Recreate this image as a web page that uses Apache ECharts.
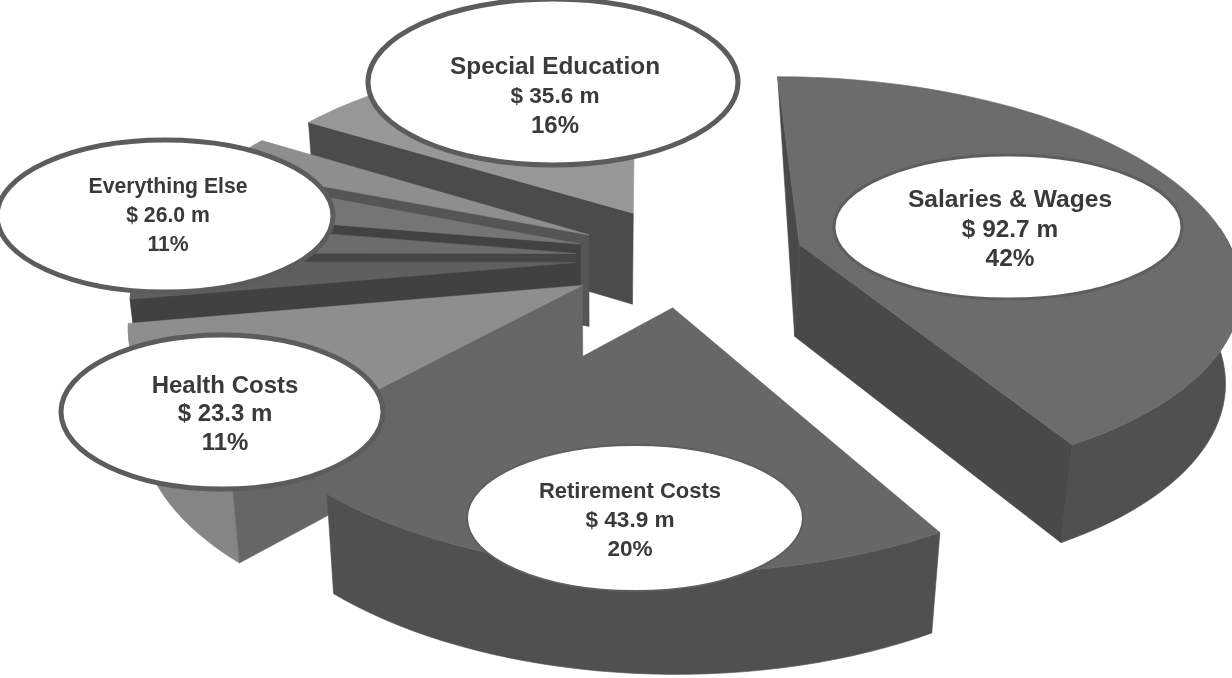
<!DOCTYPE html>
<html><head><meta charset="utf-8">
<style>html,body{margin:0;padding:0;background:#fff}#c{width:1232px;height:678px}</style>
<script src="https://cdn.jsdelivr.net/npm/echarts@6/dist/echarts.min.js"></script>
</head><body><div id="c"></div>
<script>
// ---- data (clockwise from 12 o'clock) ----
const categories = ['Salaries & Wages','Retirement Costs','Health Costs','Everything Else','Special Education'];
const amounts = [92.7,43.9,23.3,26.0,35.6];
const amountLabels = ['$ 92.7 m','$ 43.9 m','$ 23.3 m','$ 26.0 m','$ 35.6 m'];
const percentLabels = ['42%','20%','11%','11%','16%'];
// Everything Else is drawn as four thin unlabelled slices, sizes read from the fan
const everythingElseParts = [6.3,5.9,7.4,6.4];

// ---- styles / layout ----
const explode = [0.268,0.24,0.275,0.26,0.265];
const nudgeX = [0,-0.012,0,0,0];
const topShade = ['#6c6c6c','#676767','#8e8e8e',null,'#979797'];
const sideShade = ['#494949','#525252','#666666',null,'#4b4b4b'];
const arcShade = ['#505050','#505050','#858585',null,'#6f6f6f'];
const partTop = ['#5f5f5f','#6c6c6c','#757575','#8e8e8e'];
const partSide = ['#414141','#454545','#424242','#555555'];
const V = {cx:648,x0:0.093,y0:258,A:435,k:0.17,T:1180,vx:600,tilt:-0.024};
const callouts = [
 {cx:1008,cy:227,rx:174,ry:72,border:'#5e5e5e',bw:3,tx:1010,fs:[24.6,24.4,24.4],y:[200,230,259]},
 {cx:635,cy:518,rx:168,ry:73,border:'#5e5e5e',bw:2,tx:630,fs:[22,22.6,22.6],y:[492,521,550]},
 {cx:222,cy:412,rx:161,ry:77,border:'#5c5c5c',bw:5,tx:225,fs:[24,24,24],y:[386,414,443]},
 {cx:165,cy:216,rx:168,ry:76,border:'#5c5c5c',bw:5,tx:168,fs:[21.2,21.2,21.2],y:[187,216,245]},
 {cx:553,cy:82,rx:185,ry:83,border:'#5c5c5c',bw:5,tx:555,fs:[24.4,22.6,24],y:[67,97,126]}
];

function proj(X,Y){
  const s=1/(1+V.k*Y);
  return [V.cx+V.A*(X+V.x0)*s, V.y0+V.T*(s-1)];
}
function drop(p){
  const d=92+0.03*(p[1]-250);
  return [p[0]+V.tilt*(p[0]-V.vx), p[1]+d];
}
// wedges built from the values
const total = amounts.reduce((a,b)=>a+b,0);
const wedges = [];
let run = 0;
amounts.forEach((v,i)=>{
  if(i===3){
    let r=run;
    everythingElseParts.forEach((p,j)=>{
      wedges.push({from:r/total*360,to:(r+p)/total*360,mid:(r+p/2)/total*360,e:explode[i],nx:nudgeX[i],top:partTop[j],side:partSide[j],arc:partTop[j],order:7+j});
      r+=p;
    });
  } else {
    wedges.push({from:run/total*360,to:(run+v)/total*360,mid:(run+v/2)/total*360,e:explode[i],nx:nudgeX[i],top:topShade[i],side:sideShade[i],arc:arcShade[i],order:{4:20,2:5,1:3,0:1}[i]});
  }
  run+=v;
});
wedges.sort((a,b)=>b.order-a.order);

function wedgeFaces(w){
  const rad=a=>a*Math.PI/180;
  const ox=w.e*Math.sin(rad(w.mid))+w.nx, oy=w.e*Math.cos(rad(w.mid));
  const apex=proj(ox,oy);
  const arc=[], nearArc=[];
  const n=Math.max(6,Math.ceil((w.to-w.from)/2));
  for(let i=0;i<=n;i++){
    const a=rad(w.from+(w.to-w.from)*i/n);
    const p=proj(ox+Math.sin(a),oy+Math.cos(a));
    arc.push(p);
    if(Math.cos(a)<0.1) nearArc.push(p);
  }
  const style=(fill)=>({fill,stroke:fill,lineWidth:0.6});
  const poly=(pts,fill)=>({type:'polygon',shape:{points:pts},style:style(fill)});
  const first=arc[0], last=arc[arc.length-1];
  const faces=[];
  if(nearArc.length>1) faces.push(poly(nearArc.concat(nearArc.map(drop).reverse()),w.arc));
  const sinFrom=Math.sin(rad(w.from)), sinTo=Math.sin(rad(w.to));
  if(w.from===0) faces.push(poly([first,apex,drop(apex)],w.side));
  else if(sinFrom<0) faces.push(poly([apex,first,drop(first),drop(apex)],w.side));
  if(sinTo>0) faces.push(poly([apex,last,drop(last),drop(apex)],w.side));
  faces.push(poly([apex].concat(arc),w.top));
  return faces;
}

const chart = echarts.init(document.getElementById('c'),null,{renderer:'canvas'});
chart.setOption({
  animation:false,
  backgroundColor:'#ffffff',
  series:[
   {type:'custom',coordinateSystem:'none',silent:true,z:1,
    data:wedges.map((w,i)=>i),
    renderItem:(p,api)=>({type:'group',children:wedgeFaces(wedges[api.value(0)])})},
   {type:'custom',coordinateSystem:'none',silent:true,z:2,
    data:categories.map((c,i)=>i),
    renderItem:(p,api)=>{
      const i=api.value(0), c=callouts[i];
      const lines=[categories[i],amountLabels[i],percentLabels[i]];
      return {type:'group',children:[
        {type:'ellipse',shape:{cx:c.cx,cy:c.cy,rx:c.rx,ry:c.ry},style:{fill:'#ffffff',stroke:c.border,lineWidth:c.bw}}
      ].concat(lines.map((t,j)=>({type:'text',style:{text:t,x:c.tx,y:c.y[j],align:'center',verticalAlign:'middle',
        font:'bold '+c.fs[j]+'px "Liberation Sans", Arial, sans-serif',fill:'#3a3a3a'}})))};
    }}
  ]
});
</script></body></html>
